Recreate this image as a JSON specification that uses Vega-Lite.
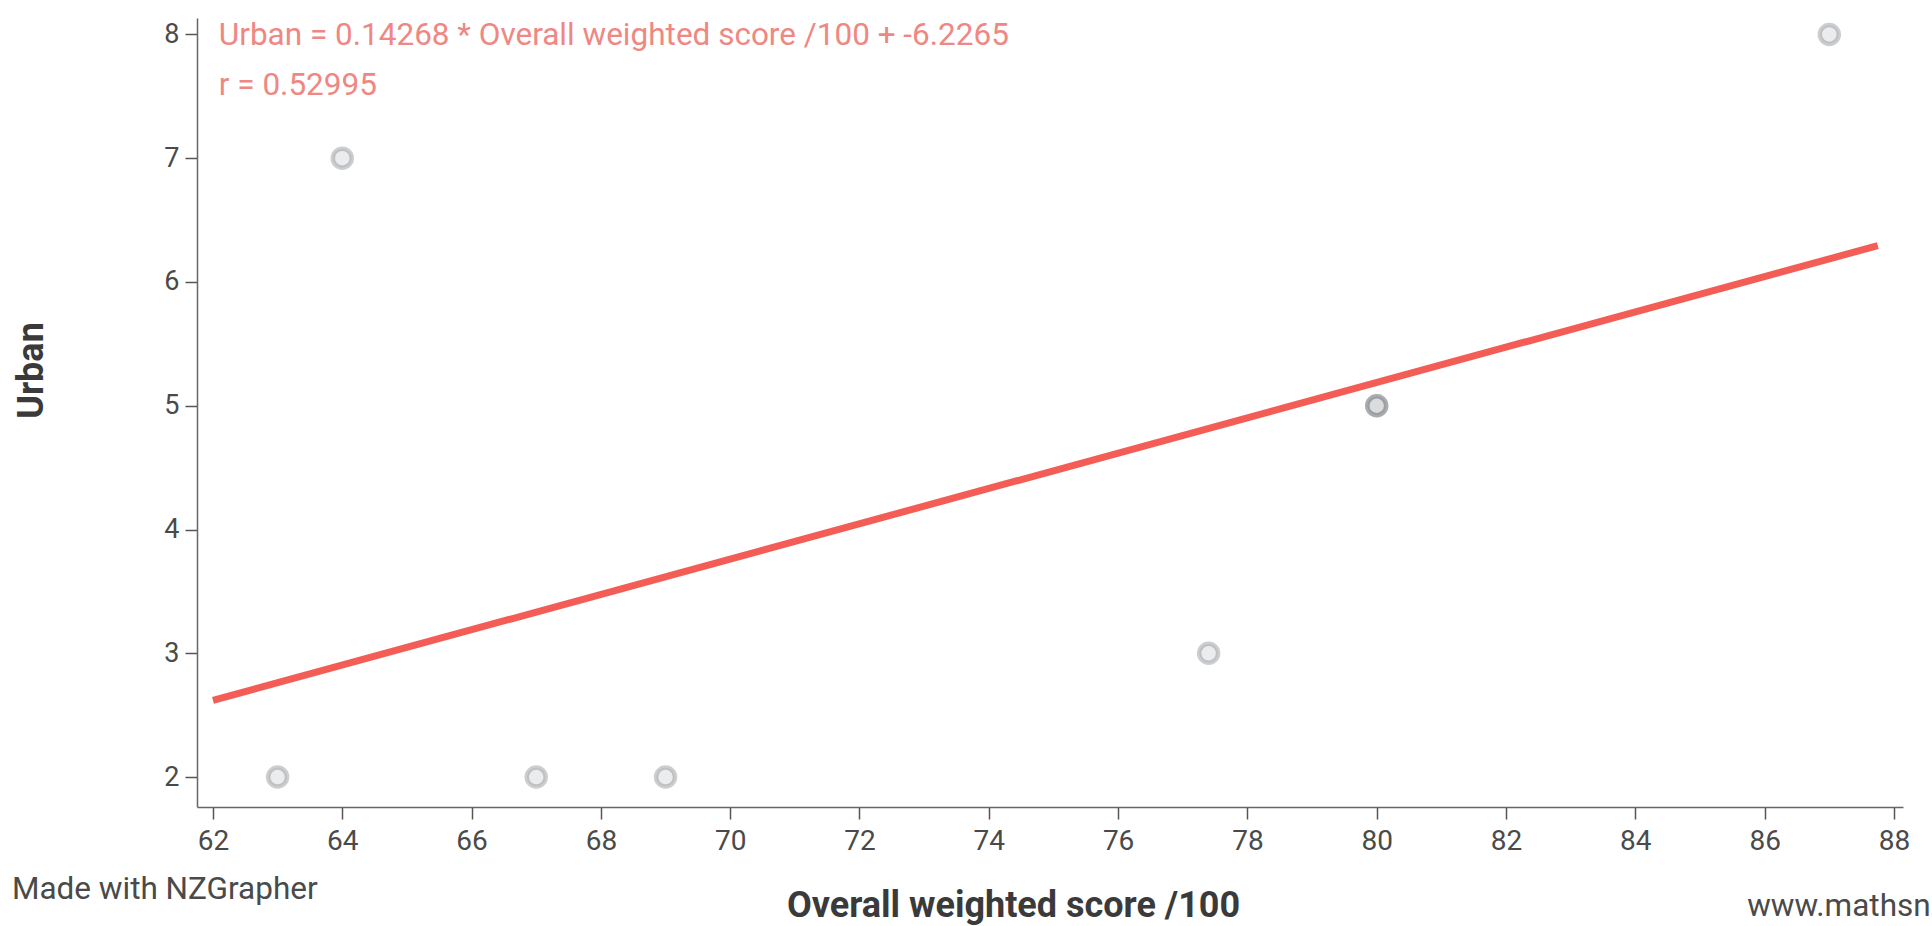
{
  "$schema": "https://vega.github.io/schema/vega-lite/v6.json",
  "autosize": "none",
  "width": 1706,
  "height": 789,
  "padding": {"left": 197, "top": 18, "right": 29, "bottom": 119},
  "background": "white",
  "config": {
    "view": {"stroke": null},
    "font": "Roboto",
    "axis": {
      "domainColor": "#666666",
      "domainWidth": 1.5,
      "tickColor": "#555555",
      "tickWidth": 1.5,
      "tickSize": 12,
      "labelColor": "#4a4a4a",
      "labelFont": "Roboto",
      "titleFont": "Roboto",
      "titleFontSize": 36,
      "titleFontWeight": "bold",
      "titleColor": "#3a3a3a",
      "grid": false
    }
  },
  "datasets": {
    "points": [
      {"score": 63, "urban": 2},
      {"score": 64, "urban": 7},
      {"score": 67, "urban": 2},
      {"score": 69, "urban": 2},
      {"score": 77.4, "urban": 3},
      {"score": 80, "urban": 5},
      {"score": 80, "urban": 5},
      {"score": 87, "urban": 8}
    ],
    "fit": [
      {"score": 62, "urban": 2.6197},
      {"score": 87.75, "urban": 6.2937}
    ],
    "notes": [
      {"score": 62.09, "urban": 7.99, "label": "Urban = 0.14268 * Overall weighted score /100 + -6.2265", "kind": "eq", "base": "middle"},
      {"score": 62.09, "urban": 7.58, "label": "r = 0.52995", "kind": "eq", "base": "middle"},
      {"score": 58.89, "urban": 1.09, "label": "Made with NZGrapher", "kind": "foot", "base": "middle"},
      {"score": 85.73, "urban": 0.95, "label": "www.mathsnz.com", "kind": "foot", "base": "top"}
    ]
  },
  "layer": [
    {
      "data": {"name": "fit"},
      "mark": {"type": "line", "color": "#f45d56", "strokeWidth": 7, "strokeCap": "butt"},
      "encoding": {
        "x": {
          "field": "score",
          "type": "quantitative",
          "scale": {"domain": [61.753, 88.14], "nice": false, "zero": false},
          "axis": {
            "title": "Overall weighted score /100",
            "values": [62, 64, 66, 68, 70, 72, 74, 76, 78, 80, 82, 84, 86, 88],
            "format": "d",
            "labelFontSize": 28,
            "labelPadding": 8,
            "titleX": 816,
            "titleY": 98,
            "titleAlign": "center",
            "titleBaseline": "middle"
          }
        },
        "y": {
          "field": "urban",
          "type": "quantitative",
          "scale": {"domain": [1.758, 8.133], "nice": false, "zero": false},
          "axis": {
            "title": "Urban",
            "values": [2, 3, 4, 5, 6, 7, 8],
            "format": "d",
            "labelFontSize": 27,
            "labelPadding": 6,
            "titleX": -166,
            "titleY": 352,
            "titleAlign": "center",
            "titleBaseline": "middle"
          }
        }
      }
    },
    {
      "data": {"name": "points"},
      "mark": {
        "type": "point",
        "filled": false,
        "shape": "circle",
        "size": 360,
        "color": "#62676c",
        "fill": "#9aa0a6",
        "fillOpacity": 0.2,
        "strokeOpacity": 0.32,
        "strokeWidth": 4.5
      },
      "encoding": {
        "x": {"field": "score", "type": "quantitative"},
        "y": {"field": "urban", "type": "quantitative"}
      }
    },
    {
      "data": {"name": "notes"},
      "mark": {"type": "text", "align": "left", "fontSize": 31.5, "font": "Roboto"},
      "encoding": {
        "x": {"field": "score", "type": "quantitative"},
        "y": {"field": "urban", "type": "quantitative"},
        "text": {"field": "label"},
        "baseline": {"field": "base", "type": "nominal", "scale": null},
        "color": {
          "field": "kind",
          "type": "nominal",
          "scale": {"domain": ["eq", "foot"], "range": ["#ef8783", "#4a4a4a"]},
          "legend": null
        }
      }
    }
  ]
}
